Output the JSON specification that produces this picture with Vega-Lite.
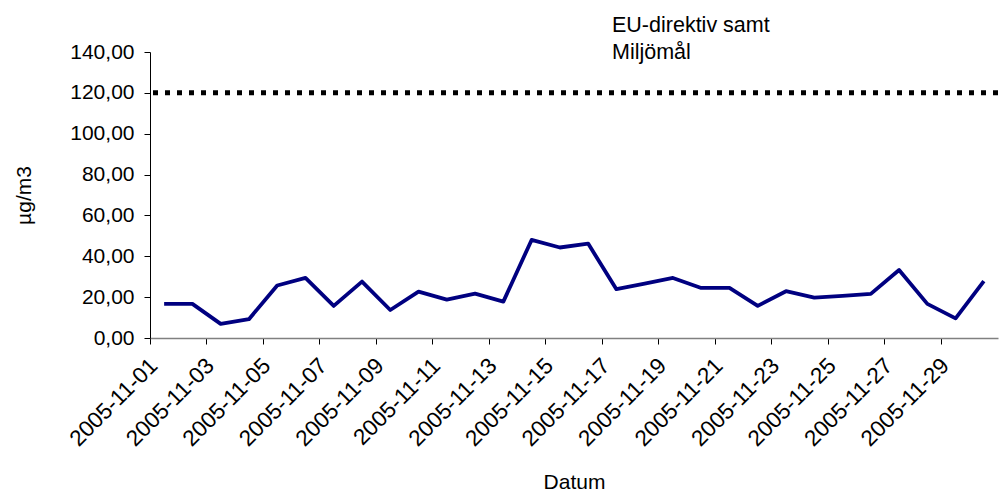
{
  "$schema": "https://vega.github.io/schema/vega-lite/v6.json",
  "width": 848,
  "height": 286,
  "autosize": "none",
  "padding": {"left": 150, "top": 52, "right": 9, "bottom": 153},
  "background": "white",
  "config": {
    "view": {"stroke": null},
    "font": "Liberation Sans",
    "axis": {"labelFont": "Liberation Sans", "titleFont": "Liberation Sans", "labelColor": "black", "titleColor": "black", "grid": false}
  },
  "title": {
    "text": ["EU-direktiv samt", "Miljömål"],
    "anchor": "start",
    "frame": "group",
    "orient": "top",
    "dx": 462,
    "offset": -39.6,
    "baseline": "alphabetic",
    "lineHeight": 27.6,
    "font": "Liberation Sans",
    "fontSize": 21.5,
    "fontWeight": "normal",
    "color": "black"
  },
  "layer": [
    {
      "data": {
        "values": [
          {"Datum": "2005-11-01", "Halt": 16.7},
          {"Datum": "2005-11-02", "Halt": 16.7},
          {"Datum": "2005-11-03", "Halt": 6.9},
          {"Datum": "2005-11-04", "Halt": 9.2},
          {"Datum": "2005-11-05", "Halt": 25.7},
          {"Datum": "2005-11-06", "Halt": 29.4},
          {"Datum": "2005-11-07", "Halt": 15.7},
          {"Datum": "2005-11-08", "Halt": 27.6},
          {"Datum": "2005-11-09", "Halt": 13.7},
          {"Datum": "2005-11-10", "Halt": 22.7},
          {"Datum": "2005-11-11", "Halt": 18.8},
          {"Datum": "2005-11-12", "Halt": 21.7},
          {"Datum": "2005-11-13", "Halt": 17.8},
          {"Datum": "2005-11-14", "Halt": 48.0},
          {"Datum": "2005-11-15", "Halt": 44.3},
          {"Datum": "2005-11-16", "Halt": 46.2},
          {"Datum": "2005-11-17", "Halt": 23.9},
          {"Datum": "2005-11-18", "Halt": 26.6},
          {"Datum": "2005-11-19", "Halt": 29.4},
          {"Datum": "2005-11-20", "Halt": 24.5},
          {"Datum": "2005-11-21", "Halt": 24.5},
          {"Datum": "2005-11-22", "Halt": 15.7},
          {"Datum": "2005-11-23", "Halt": 22.9},
          {"Datum": "2005-11-24", "Halt": 19.8},
          {"Datum": "2005-11-25", "Halt": 20.6},
          {"Datum": "2005-11-26", "Halt": 21.6},
          {"Datum": "2005-11-27", "Halt": 33.3},
          {"Datum": "2005-11-28", "Halt": 16.7},
          {"Datum": "2005-11-29", "Halt": 9.6},
          {"Datum": "2005-11-30", "Halt": 27.8}
        ]
      },
      "mark": {"type": "line", "color": "#000080", "strokeWidth": 3.8, "strokeJoin": "round"},
      "encoding": {
        "x": {
          "field": "Datum",
          "type": "ordinal",
          "sort": null,
          "scale": {"type": "band", "paddingInner": 0, "paddingOuter": 0},
          "axis": {
            "values": ["2005-11-01", "2005-11-03", "2005-11-05", "2005-11-07", "2005-11-09", "2005-11-11", "2005-11-13", "2005-11-15", "2005-11-17", "2005-11-19", "2005-11-21", "2005-11-23", "2005-11-25", "2005-11-27", "2005-11-29"],
            "bandPosition": 0,
            "labelAngle": -45,
            "labelAlign": "right",
            "labelBaseline": "top",
            "labelOffset": -18,
            "labelPadding": 10,
            "labelFontSize": 22.5,
            "labelOverlap": false,
            "labelBound": false,
            "labelFlush": false,
            "tickSize": 6,
            "tickColor": "#000000",
            "domainColor": "#808080",
            "domainWidth": 1.5,
            "title": "Datum",
            "titleFontSize": 21,
            "titleFontWeight": "normal",
            "titleBaseline": "alphabetic",
            "titleAlign": "center",
            "titleX": 424,
            "titleY": 150
          }
        },
        "y": {
          "field": "Halt",
          "type": "quantitative",
          "scale": {"domain": [0, 140], "nice": false},
          "axis": {
            "values": [0, 20, 40, 60, 80, 100, 120, 140],
            "labelExpr": "replace(format(datum.value, '.2f'), '.', ',')",
            "labelFontSize": 21,
            "labelPadding": 10,
            "tickSize": 6,
            "tickColor": "#000000",
            "domainColor": "#000000",
            "title": "µg/m3",
            "titleFontSize": 21,
            "titleFontWeight": "normal",
            "titleAngle": -90,
            "titleBaseline": "alphabetic",
            "titleAlign": "center",
            "titleX": -120,
            "titleY": 143
          }
        }
      }
    },
    {
      "data": {"values": [{"Gransvarde": 120}]},
      "mark": {"type": "rule", "color": "black", "strokeWidth": 5, "strokeDash": [5, 7]},
      "encoding": {
        "y": {"field": "Gransvarde", "type": "quantitative"}
      }
    }
  ]
}
